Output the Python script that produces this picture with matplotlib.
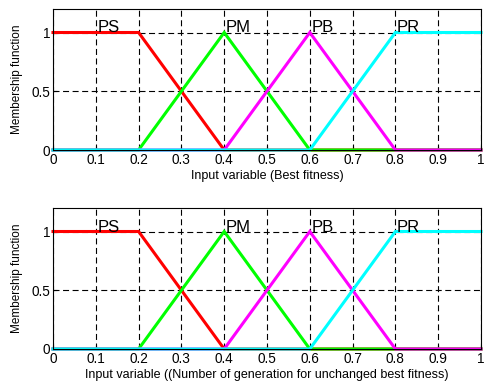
import numpy as np
import matplotlib.pyplot as plt

plt.rcParams['font.family'] = ['Liberation Sans', 'DejaVu Sans']

# membership functions (x breakpoints, y values)
x_ps = [0, 0.2, 0.4, 1.0]
y_ps = [1, 1, 0, 0]
x_pm = [0, 0.2, 0.4, 0.6, 1.0]
y_pm = [0, 0, 1, 0, 0]
x_pb = [0, 0.4, 0.6, 0.8, 1.0]
y_pb = [0, 0, 1, 0, 0]
x_pr = [0, 0.6, 0.8, 1.0]
y_pr = [0, 0, 1, 1]
mf_names = ['PS', 'PM', 'PB', 'PR']
name_x = [0.1, 0.4, 0.6, 0.8]
colors = ['#ff0000', '#00ff00', '#ff00ff', '#00ffff']

xlabels = ['Input variable (Best fitness)',
           'Input variable ((Number of generation for unchanged best fitness)']
xticks = np.round(np.arange(0, 1.01, 0.1), 1)
xticklabels = ['0', '0.1', '0.2', '0.3', '0.4', '0.5', '0.6', '0.7', '0.8', '0.9', '1']

fig = plt.figure(figsize=(4.87, 3.85), dpi=100)
# axes boxes in pixels: left, top, right, bottom
boxes = [(53, 9, 481, 150), (53, 208, 481, 349)]

for (l, t, r, b), xl in zip(boxes, xlabels):
    ax = fig.add_axes([l / 487, 1 - b / 385, (r - l) / 487, (b - t) / 385])
    for (xs, ys), c in zip([(x_ps, y_ps), (x_pm, y_pm), (x_pb, y_pb), (x_pr, y_pr)], colors):
        ax.plot(xs, ys, color=c, lw=2.2, solid_joinstyle='miter', clip_on=False)
    for nm, nx in zip(mf_names, name_x):
        ax.text(nx + 0.004, 1.0, nm, fontsize=12, ha='left', va='baseline')
    ax.set_xlim(0, 1)
    ax.set_ylim(0, 1.2)
    ax.set_xticks(xticks)
    ax.set_xticklabels(xticklabels)
    ax.set_yticks([0, 0.5, 1])
    ax.set_yticklabels(['0', '0.5', '1'])
    ax.grid(True, color='black', linestyle=(0, (5.4, 3.2)), linewidth=0.8)
    ax.tick_params(direction='in', length=3, labelsize=9.8, pad=2)
    ax.set_xlabel(xl, fontsize=9)
    ax.set_ylabel('Membership function', fontsize=8.5)
    ax.xaxis.set_label_coords(0.5, -0.145)
    ax.yaxis.set_label_coords(-0.07, 0.5)
    for s in ax.spines.values():
        s.set_linewidth(0.8)

fig.savefig('out.png', dpi=100)
